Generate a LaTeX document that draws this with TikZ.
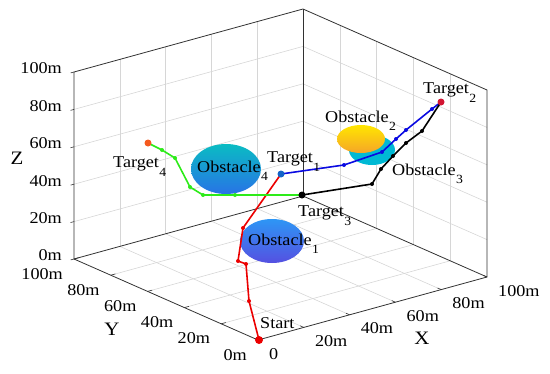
\documentclass[tikz,border=0pt]{standalone}
\usepackage{fontspec}
\setmainfont{Liberation Serif}[FakeStretch=1.1]
\usetikzlibrary{positioning,calc}
\definecolor{GRID-GRAY}{RGB}{214,214,214}
\definecolor{BOX-GRAY}{RGB}{50,50,50}
\definecolor{PATH-RED}{RGB}{235,0,0}
\definecolor{PATH-GREEN}{RGB}{45,235,25}
\definecolor{PATH-BLUE}{RGB}{10,10,225}
\definecolor{OBS-TEAL}{RGB}{10,188,195}
\definecolor{OBS-BLUE}{RGB}{40,115,230}
\definecolor{OBS-SKY}{RGB}{45,150,245}
\definecolor{OBS-VIOLET}{RGB}{85,80,225}
\definecolor{OBS-YELLOW}{RGB}{255,230,0}
\definecolor{OBS-ORANGE}{RGB}{245,165,40}
\definecolor{OBS-CYAN}{RGB}{0,185,212}
\definecolor{T1-BLUE}{RGB}{20,100,200}
\definecolor{T2-RED}{RGB}{210,20,50}
\definecolor{T4-ORANGE}{RGB}{245,90,30}

\newcommand{\lblsub}[3][-9pt]{#2\kern0.5pt\raisebox{#1}{\fontsize{12.5}{12.5}\selectfont #3}}

\tikzset{
  lbl/.style={inner sep=0pt, anchor=base west, font=\fontsize{16.5}{16.5}\selectfont},
  ticklbl/.style={inner sep=0pt, font=\fontsize{16.5}{16.5}\selectfont},
  axlbl/.style={inner sep=0pt, font=\fontsize{19}{19}\selectfont},
  route/.style={line width=1.6pt, line join=round}
}

\begin{document}
\begin{tikzpicture}[x=1pt, y=-1pt]
  \useasboundingbox (0,0) rectangle (550,373);

  % 3D axes frame (metres)
  \begin{scope}[shift={(258,340)}, x={(2.29pt,0.63pt)}, y={(-1.84pt,0.81pt)}, z={(0pt,1.87pt)}]
    % grid on floor and back walls
    \foreach \v in {20,40,60,80} {
      \draw[GRID-GRAY, line width=0.6pt] (\v,0,0) -- (\v,100,0);
      \draw[GRID-GRAY, line width=0.6pt] (0,\v,0) -- (100,\v,0);
      \draw[GRID-GRAY, line width=0.6pt] (\v,100,0) -- (\v,100,100);
      \draw[GRID-GRAY, line width=0.6pt] (0,100,\v) -- (100,100,\v);
      \draw[GRID-GRAY, line width=0.6pt] (100,\v,0) -- (100,\v,100);
      \draw[GRID-GRAY, line width=0.6pt] (100,0,\v) -- (100,100,\v);
    }
    % box
    \draw[BOX-GRAY, line width=0.8pt] (0,100,100) -- (0,100,0) -- (0,0,0) -- (100,0,0)
      -- (100,0,100) -- (100,100,100) -- cycle;
    \draw[BOX-GRAY, line width=0.8pt] (0,100,0) -- (100,100,0) -- (100,0,0);
    \draw[BOX-GRAY, line width=0.8pt] (100,100,0) -- (100,100,100);
    % ticks and tick labels
    \foreach \v in {0,20,...,100} {
      \draw[BOX-GRAY, line width=0.6pt] (0,100,\v) -- (-1.5,100,\v);
      \node[ticklbl, anchor=east, xshift=-12pt, yshift=3.5pt] (zl\v) at (0,100,\v) {\v m};
      \draw[BOX-GRAY, line width=0.6pt] (0,\v,0) -- (2,\v,0);
      \node[ticklbl, anchor=north east, xshift=-11pt, yshift=-9pt] (yl\v) at (0,\v,0) {\v m};
    }
    \foreach \v/\t in {0/0,20/20m,40/40m,60/60m,80/80m,100/100m} {
      \draw[BOX-GRAY, line width=0.6pt] (\v,0,0) -- (\v,2,0);
      \node[ticklbl, anchor=north west, xshift=11pt, yshift=-8pt] (xl\v) at (\v,0,0) {\t};
    }
  \end{scope}

  % axis names
  \node[axlbl] (zname) at (17,158) {Z};
  \node[axlbl] (yname) at (112,329) {Y};
  \node[axlbl] (xname) at (422,338) {X};

  % obstacles
  \shade[top color=OBS-TEAL, bottom color=OBS-BLUE] (226,169) ellipse (35pt and 25pt);
  \shade[top color=OBS-SKY, bottom color=OBS-VIOLET] (272,241) ellipse (32pt and 22pt);
  \fill[OBS-CYAN] (372,150) ellipse (23pt and 15pt);
  \shade[top color=OBS-YELLOW, bottom color=OBS-ORANGE] (361,139) ellipse (24pt and 14pt);

  % start and targets
  \coordinate (start) at (259,340);
  \coordinate (tgt1) at (281,174);
  \coordinate (tgt2) at (441,102);
  \coordinate (tgt3) at (302,195);
  \coordinate (tgt4) at (148,143);

  % start -> target 1
  \draw[PATH-RED, route] (start) -- (249,301) -- (246,264) -- (238,261) -- (243,228) -- (tgt1);
  \foreach \p in {(249,301),(246,264),(238,261),(243,228)}
    \fill[PATH-RED] \p circle (2pt);

  % target 1 -> target 2
  \draw[PATH-BLUE, route] (tgt1) -- (344,165) -- (382,152) -- (396,139) -- (406,130) -- (432,109) -- (tgt2);
  \foreach \p in {(344,165),(382,152),(396,139),(406,130),(432,109)}
    \fill[PATH-BLUE] \p circle (2pt);

  % target 2 -> target 3
  \draw[black, route] (tgt2) -- (422,131) -- (406,143) -- (393,156) -- (381,169) -- (372,184) -- (tgt3);
  \foreach \p in {(422,131),(406,143),(393,156),(381,169),(372,184)}
    \fill[black] \p circle (2pt);

  % target 3 -> target 4
  \draw[PATH-GREEN, route] (tgt3) -- (235,195) -- (203,195) -- (190,187) -- (175,158) -- (162,150) -- (tgt4);
  \foreach \p in {(235,195),(203,195),(190,187),(175,158),(162,150)}
    \fill[PATH-GREEN] \p circle (2pt);

  % markers
  \fill[PATH-RED] (start) circle (4pt);
  \fill[T1-BLUE] (tgt1) circle (3.5pt);
  \fill[T2-RED] (tgt2) circle (3.5pt);
  \fill[black] (tgt3) circle (3.5pt);
  \fill[T4-ORANGE] (tgt4) circle (3.5pt);

  % labels
  \node[lbl] (lstart) at (260,328) {Start};
  \node[lbl] (ltgt1) at (267,162) {\lblsub{Target}{1}};
  \node[lbl] (ltgt2) at (423,93) {\lblsub{Target}{2}};
  \node[lbl] (ltgt3) at (298,216) {\lblsub{Target}{3}};
  \node[lbl] (ltgt4) at (113,167) {\lblsub{Target}{4}};
  \node[lbl] (lobs1) at (248,245) {\lblsub[-8pt]{Obstacle}{1}};
  \node[lbl] (lobs2) at (325,122) {\lblsub[-8pt]{Obstacle}{2}};
  \node[lbl] (lobs3) at (392,175) {\lblsub[-8pt]{Obstacle}{3}};
  \node[lbl] (lobs4) at (197,172) {\lblsub[-8pt]{Obstacle}{4}};
\end{tikzpicture}
\end{document}
